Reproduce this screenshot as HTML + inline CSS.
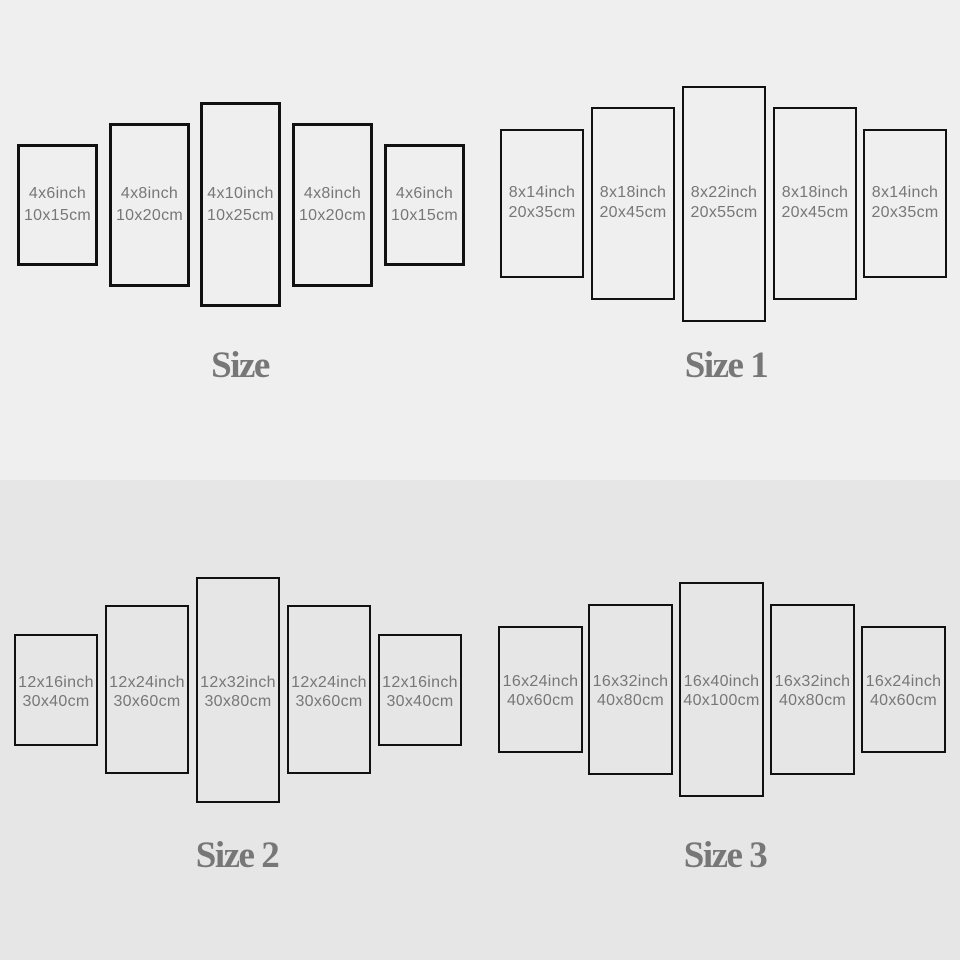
<!DOCTYPE html>
<html><head><meta charset="utf-8"><style>
body{margin:0;width:960px;height:960px;position:relative;overflow:hidden;background:#efefef;font-family:"Liberation Sans",sans-serif}
.bot{position:absolute;left:0;top:480px;width:960px;height:480px;background:#e6e6e6}
.b{position:absolute;box-sizing:border-box;border:2px solid #111}
.t{position:absolute;width:100px;text-align:center;color:#777;font-size:16px;line-height:21px;white-space:nowrap;letter-spacing:0.3px}
.h{position:absolute;width:200px;text-align:center;color:#777;font-family:"Liberation Serif",serif;font-weight:bold;font-size:37px;letter-spacing:-1.5px}
</style></head><body>
<div class="bot"></div>
<div id="c"></div>
<script>
var groups=[
 {bw:3,lines:[183,205],boxes:[[17,144,98,266],[109,123,190,287],[200,102,281,307],[292,123,373,287],[384,144,465,266]],
  txt:[["4x6inch","10x15cm"],["4x8inch","10x20cm"],["4x10inch","10x25cm"],["4x8inch","10x20cm"],["4x6inch","10x15cm"]]},
 {bw:2,lines:[182,202],boxes:[[500,129,584,278],[591,107,675,300],[682,86,766,322],[773,107,857,300],[863,129,947,278]],
  txt:[["8x14inch","20x35cm"],["8x18inch","20x45cm"],["8x22inch","20x55cm"],["8x18inch","20x45cm"],["8x14inch","20x35cm"]]},
 {bw:2,lines:[672,691],boxes:[[14,634,98,746],[105,605,189,774],[196,577,280,803],[287,605,371,774],[378,634,462,746]],
  txt:[["12x16inch","30x40cm"],["12x24inch","30x60cm"],["12x32inch","30x80cm"],["12x24inch","30x60cm"],["12x16inch","30x40cm"]]},
 {bw:2,lines:[671,690],boxes:[[498,626,583,753],[588,604,673,775],[679,582,764,797],[770,604,855,775],[861,626,946,753]],
  txt:[["16x24inch","40x60cm"],["16x32inch","40x80cm"],["16x40inch","40x100cm"],["16x32inch","40x80cm"],["16x24inch","40x60cm"]]}
];
var h="";
groups.forEach(function(g){g.boxes.forEach(function(b,i){
 h+='<div class="b" style="border-width:'+g.bw+'px;left:'+b[0]+'px;top:'+b[1]+'px;width:'+(b[2]-b[0])+'px;height:'+(b[3]-b[1])+'px"></div>';
 var cx=(b[0]+b[2])/2;
 h+='<div class="t" style="left:'+(cx-50)+'px;top:'+g.lines[0]+'px">'+g.txt[i][0]+'</div>';
 h+='<div class="t" style="left:'+(cx-50)+'px;top:'+g.lines[1]+'px">'+g.txt[i][1]+'</div>';
});});
document.getElementById("c").innerHTML=h;
</script>
<div class="h" style="left:140px;top:344px">Size</div>
<div class="h" style="left:626px;top:344px">Size 1</div>
<div class="h" style="left:137px;top:834px">Size 2</div>
<div class="h" style="left:625px;top:834px">Size 3</div>
</body></html>
